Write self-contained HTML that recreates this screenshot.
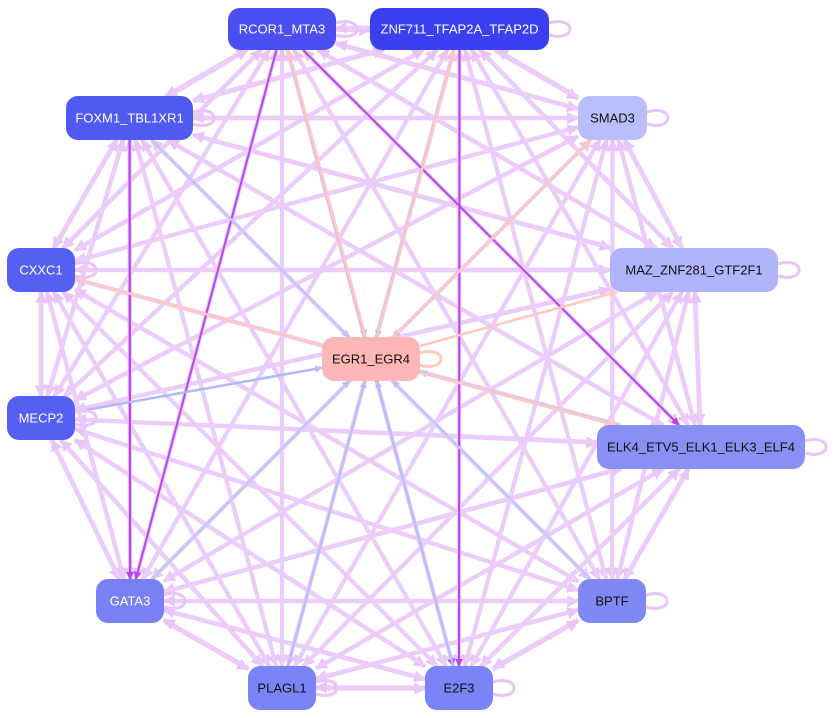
<!DOCTYPE html>
<html><head><meta charset="utf-8"><style>
html,body{margin:0;padding:0;background:#fff;width:836px;height:718px;overflow:hidden}
svg{display:block}
text{font-family:"Liberation Sans",Arial,sans-serif;font-size:13px}
</style></head><body>
<svg id="s" width="836" height="718" xmlns="http://www.w3.org/2000/svg">
<defs>
<marker id="a1" viewBox="0 0 10 10" refX="9" refY="5" markerWidth="3" markerHeight="3" orient="auto"><path d="M0,0L10,5L0,10z" fill="#e8c4f8"/></marker>
<marker id="a2" viewBox="0 0 10 10" refX="9" refY="5" markerWidth="4" markerHeight="4" orient="auto"><path d="M0,0L10,5L0,10z" fill="#b844f0"/></marker>
<marker id="a3" viewBox="0 0 10 10" refX="9" refY="5" markerWidth="3" markerHeight="3" orient="auto"><path d="M0,0L10,5L0,10z" fill="#b8c0f8"/></marker>
<marker id="a4" viewBox="0 0 10 10" refX="9" refY="5" markerWidth="3" markerHeight="3" orient="auto"><path d="M0,0L10,5L0,10z" fill="#ffc8c0"/></marker>
</defs>
<g id="E"></g><g id="N"></g>
</svg>
<script>
var N={
R:[228,8,108,42,"RCOR1_MTA3","#4b4ff2","#fff"],
Z:[370,8,179,42,"ZNF711_TFAP2A_TFAP2D","#3a40f0","#fff"],
F:[66,96,127,44,"FOXM1_TBL1XR1","#5059f0","#fff"],
S:[578,96,69,44,"SMAD3","#babefa","#111"],
C:[7,248,68,44,"CXXC1","#5560f2","#fff"],
M:[610,248,168,44,"MAZ_ZNF281_GTF2F1","#b0b4fa","#111"],
G:[322,337,98,44,"EGR1_EGR4","#ffb6b6","#111"],
P:[7,396,68,44,"MECP2","#5560f2","#fff"],
K:[597,425,208,44,"ELK4_ETV5_ELK1_ELK3_ELF4","#8890f4","#111"],
A:[96,579,68,44,"GATA3","#7880f4","#fff"],
B:[578,579,68,44,"BPTF","#8088f6","#111"],
L:[248,666,68,44,"PLAGL1","#7a84f6","#111"],
E:[425,666,68,44,"E2F3","#7a84f6","#111"]};
function c(k){var n=N[k];return[n[0]+n[2]/2,n[1]+n[3]/2]}
function edge(p,k,t){var n=N[k],cx=n[0]+n[2]/2,cy=n[1]+n[3]/2,dx=p[0]-cx,dy=p[1]-cy;
var sx=dx?(n[2]/2)/Math.abs(dx):1e9,sy=dy?(n[3]/2)/Math.abs(dy):1e9,s=Math.min(sx,sy);return[cx+dx*s,cy+dy*s]}
var ns="http://www.w3.org/2000/svg",Eg=document.getElementById("E"),Ng=document.getElementById("N");
function line(a,b,col,w,m,off){var pa=c(a),pb=c(b);var dx=pb[0]-pa[0],dy=pb[1]-pa[1],L=Math.hypot(dx,dy);var ox=-dy/L*off,oy=dx/L*off;
pa=[pa[0]+ox,pa[1]+oy];pb=[pb[0]+ox,pb[1]+oy];var s=edge(pb,a),e=edge(pa,b);
var l=document.createElementNS(ns,"line");l.setAttribute("x1",s[0]);l.setAttribute("y1",s[1]);l.setAttribute("x2",e[0]);l.setAttribute("y2",e[1]);
l.setAttribute("stroke",col);l.setAttribute("stroke-width",w);l.setAttribute("marker-end","url(#"+m+")");Eg.appendChild(l)}
var keys="RZFSCMPKABLE".split("");
for(var i=0;i<keys.length;i++)for(var j=0;j<keys.length;j++){if(i==j)continue;line(keys[i],keys[j],"#ecccfa",4,"a1",3)}
var dark=[["F","A"],["F","A"],["R","A"],["R","E"],["Z","E"],["R","K"]];
dark.forEach(function(d,i){line(d[0],d[1],"#b844f0",2,"a2",i==1?-4:0)});
// EGR1 edges
[["R","G","#a0a8f0"],["Z","G","#9aa4f0"],["F","G","#c0c8f8"],["S","G","#c8d0f4"],["P","G","#b0b8f8"],["K","G","#c0c8f8"],["A","G","#c0c8f8"],["L","G","#b8c0f8"],["E","G","#b8c0f8"],["B","G","#c0c8f8"]].forEach(function(d){line(d[0],d[1],d[2],2.5,"a3",0)});
[["G","R"],["G","Z"],["G","C"],["G","S"],["G","M"],["G","K"]].forEach(function(d){line(d[0],d[1],"#ffc8c0",2.5,"a4",3)});
// self loops
function loop(k,col){var n=N[k],x=n[0]+n[2],y=n[1]+n[3]/2;var p=document.createElementNS(ns,"path");
p.setAttribute("d","M"+(x)+","+(y-6)+" C"+(x+28)+","+(y-14)+" "+(x+28)+","+(y+14)+" "+x+","+(y+6));p.setAttribute("fill","none");p.setAttribute("stroke",col);p.setAttribute("stroke-width",3);Ng.appendChild(p)}
keys.concat(["G"]).forEach(function(k){loop(k,k=="G"?"#ffc8c0":"#e8c4f8")});
for(var k in N){var n=N[k];var r=document.createElementNS(ns,"rect");r.setAttribute("x",n[0]);r.setAttribute("y",n[1]);r.setAttribute("width",n[2]);r.setAttribute("height",n[3]);r.setAttribute("rx",12);r.setAttribute("fill",n[5]);Ng.appendChild(r);
var t=document.createElementNS(ns,"text");t.setAttribute("x",n[0]+n[2]/2);t.setAttribute("y",n[1]+n[3]/2+4.5);t.setAttribute("text-anchor","middle");t.setAttribute("fill",n[6]);t.textContent=n[4];Ng.appendChild(t)}
</script>
</body></html>
